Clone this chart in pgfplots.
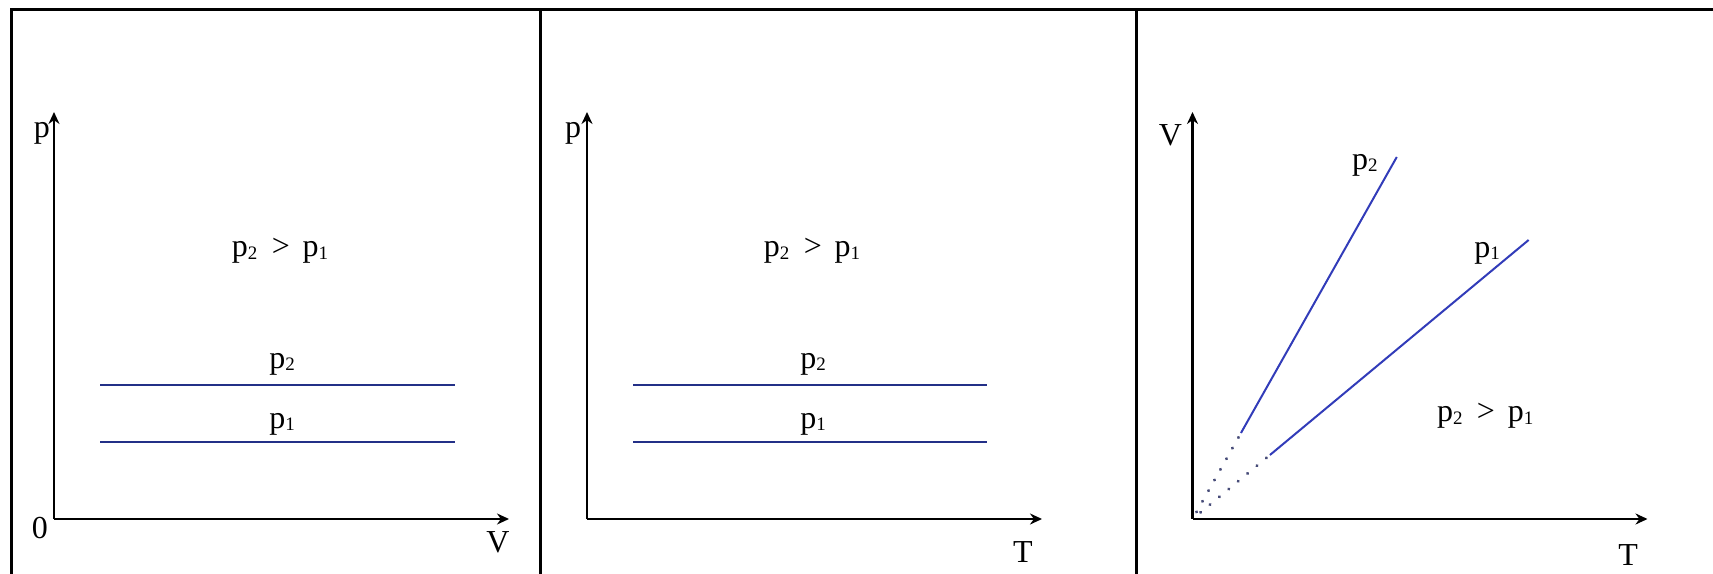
\documentclass[border=0pt]{standalone}
\usepackage{fontspec}
\setmainfont{Liberation Serif}
\usepackage{pgfplots}
\pgfplotsset{compat=1.18}
\usetikzlibrary{arrows.meta}
\definecolor{lineblue}{RGB}{35,48,135}
\definecolor{lineblue3}{RGB}{50,60,185}
\definecolor{dotcol}{RGB}{70,75,120}
\newcommand{\pt}[1]{p\raisebox{-1.2pt}{\fontsize{9.5}{11}\selectfont #1}}
\newcommand{\rel}{\pt{2}\hspace{0.45em}>\hspace{0.4em}\pt{1}}
\pgfplotsset{
  panel/.style={
    scale only axis, width=227.5pt, height=203.5pt,
    xmin=0, xmax=455, ymin=0, ymax=407, enlargelimits=false,
    axis lines=left, xtick=\empty, ytick=\empty,
    axis line style={line width=1.25pt,-{Stealth[length=6pt,width=5.5pt]}},
    clip=false, anchor=south west,
  }
}
\tikzset{every node/.style={inner sep=0pt, font=\fontsize{16}{19}\selectfont}}
\begin{document}
\fontsize{16}{19}\selectfont
\begin{tikzpicture}
\useasboundingbox (0,0) rectangle (856.5pt,286.5pt);
\draw[line width=1.5pt] (5.75pt,-5pt) -- (5.75pt,281.75pt) -- (870pt,281.75pt);
\draw[line width=1.5pt] (270.25pt,-5pt) -- (270.25pt,281.75pt);
\draw[line width=1.5pt] (568pt,-5pt) -- (568pt,281.75pt);

% Panel 1: p-V
\begin{axis}[panel, at={(27pt,27pt)}]
\addplot[lineblue, line width=1pt] coordinates {(46,134) (401,134)};
\addplot[lineblue, line width=1pt] coordinates {(46,77) (401,77)};
\node at (axis cs:228,155) {\pt{2}};
\node at (axis cs:228,95) {\pt{1}};
\node at (axis cs:226,268) {\rel};
\node at (axis cs:-12,386) {p};
\node at (axis cs:-14,-9) {0};
\node at (axis cs:444,-23) {V};
\end{axis}

% Panel 2: p-T
\begin{axis}[panel, at={(293.5pt,27pt)}]
\addplot[lineblue, line width=1pt] coordinates {(46,134) (400,134)};
\addplot[lineblue, line width=1pt] coordinates {(46,77) (400,77)};
\node at (axis cs:226,155) {\pt{2}};
\node at (axis cs:226,95) {\pt{1}};
\node at (axis cs:225,268) {\rel};
\node at (axis cs:-14,386) {p};
\node at (axis cs:436,-33) {T};
\end{axis}

% Panel 3: V-T
\begin{axis}[panel, at={(596.25pt,27pt)}, xmax=455.5]
\addplot[lineblue3, line width=1pt] coordinates {(48.5,86) (204.5,362)};
\addplot[lineblue3, line width=1pt] coordinates {(77.5,64) (336.5,279)};
\addplot[dotcol, line width=1.6pt, line cap=round, dash pattern=on 0.1pt off 6pt] coordinates {(4,7) (48.5,86)};
\addplot[dotcol, line width=1.6pt, line cap=round, dash pattern=on 0.1pt off 6pt] coordinates {(8,6.6) (77.5,64)};
\node at (axis cs:172.5,354) {\pt{2}};
\node at (axis cs:295,266) {\pt{1}};
\node at (axis cs:293,103) {\rel};
\node at (axis cs:-22,384) {V};
\node at (axis cs:436,-36) {T};
\end{axis}
\end{tikzpicture}
\end{document}
